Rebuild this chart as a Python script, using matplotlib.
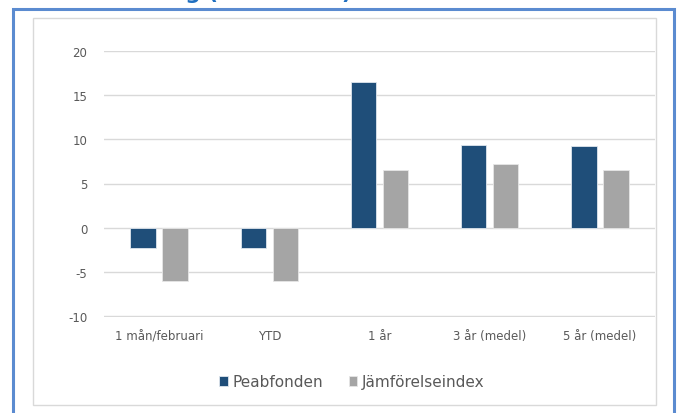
import numpy as np
import matplotlib.pyplot as plt
from matplotlib.patches import Rectangle

categories = ['1 mån/februari', 'YTD', '1 år', '3 år (medel)', '5 år (medel)']
peabfonden = [-2.3, -2.3, 16.5, 9.4, 9.2]
jamforelse = [-6.0, -6.0, 6.5, 7.2, 6.5]
yticks = [-10, -5, 0, 5, 10, 15, 20]

BLUE = '#1f4e79'
GRAY = '#a5a5a5'
TEXT = '#595959'
GRID = '#d9d9d9'


def main():
    W, H = 677, 414
    fig = plt.figure(figsize=(W / 100, H / 100), dpi=100)
    fig.patch.set_facecolor('white')

    # title, mostly above the top edge of the picture
    fig.text(352 / W, 1 + 1 / H, 'Avkastning (% i kronor)', ha='right', va='baseline',
             color='#1f6fc0', fontsize=15.5, fontweight='bold')

    # outer blue frame and inner grey chart frame
    fig.patches.append(Rectangle((13 / W, -0.05), (674 - 13) / W, 1.05 - 10 / H,
                                 transform=fig.transFigure, fill=False,
                                 edgecolor='#5b8bd0', linewidth=2.2))
    fig.patches.append(Rectangle((33 / W, 1 - 406 / H), (656 - 33) / W, (406 - 19) / H,
                                 transform=fig.transFigure, fill=False,
                                 edgecolor=GRID, linewidth=1))

    # axes: x 104..655 px, y=20 at 52 px, y=-10 at 317 px
    ax = fig.add_axes([104 / W, 1 - 318 / H, (655 - 104) / W, (318 - 52) / H])
    x = np.arange(len(categories))
    w = 0.23
    ax.bar(x - 0.145, peabfonden, w, color=BLUE, edgecolor='#dfe6ee', linewidth=0.6,
           label='Peabfonden', zorder=3)
    ax.bar(x + 0.145, jamforelse, w, color=GRAY, edgecolor='#e6e6e6', linewidth=0.6,
           label='Jämförelseindex', zorder=3)

    ax.set_xlim(-0.5, len(categories) - 0.5)
    ax.set_ylim(-10 - 30 / 265, 20)
    ax.set_yticks(yticks)
    ax.set_yticklabels([str(v) for v in yticks])
    ax.set_xticks(x)
    ax.set_xticklabels(categories)
    ax.yaxis.grid(True, color=GRID, linewidth=1, zorder=0)
    for s in ax.spines.values():
        s.set_visible(False)
    ax.tick_params(axis='both', length=0, colors=TEXT, labelsize=8.5)
    ax.tick_params(axis='y', pad=12)
    ax.tick_params(axis='x', pad=9)

    fig.legend(loc='center', bbox_to_anchor=(352 / W, 1 - 383 / H), ncol=2, frameon=False,
               fontsize=11, handlelength=0.55, handleheight=0.55, handletextpad=0.3,
               columnspacing=1.7, labelcolor=TEXT)

    fig.savefig('out.png', dpi=100)


if __name__ == '__main__':
    main()
